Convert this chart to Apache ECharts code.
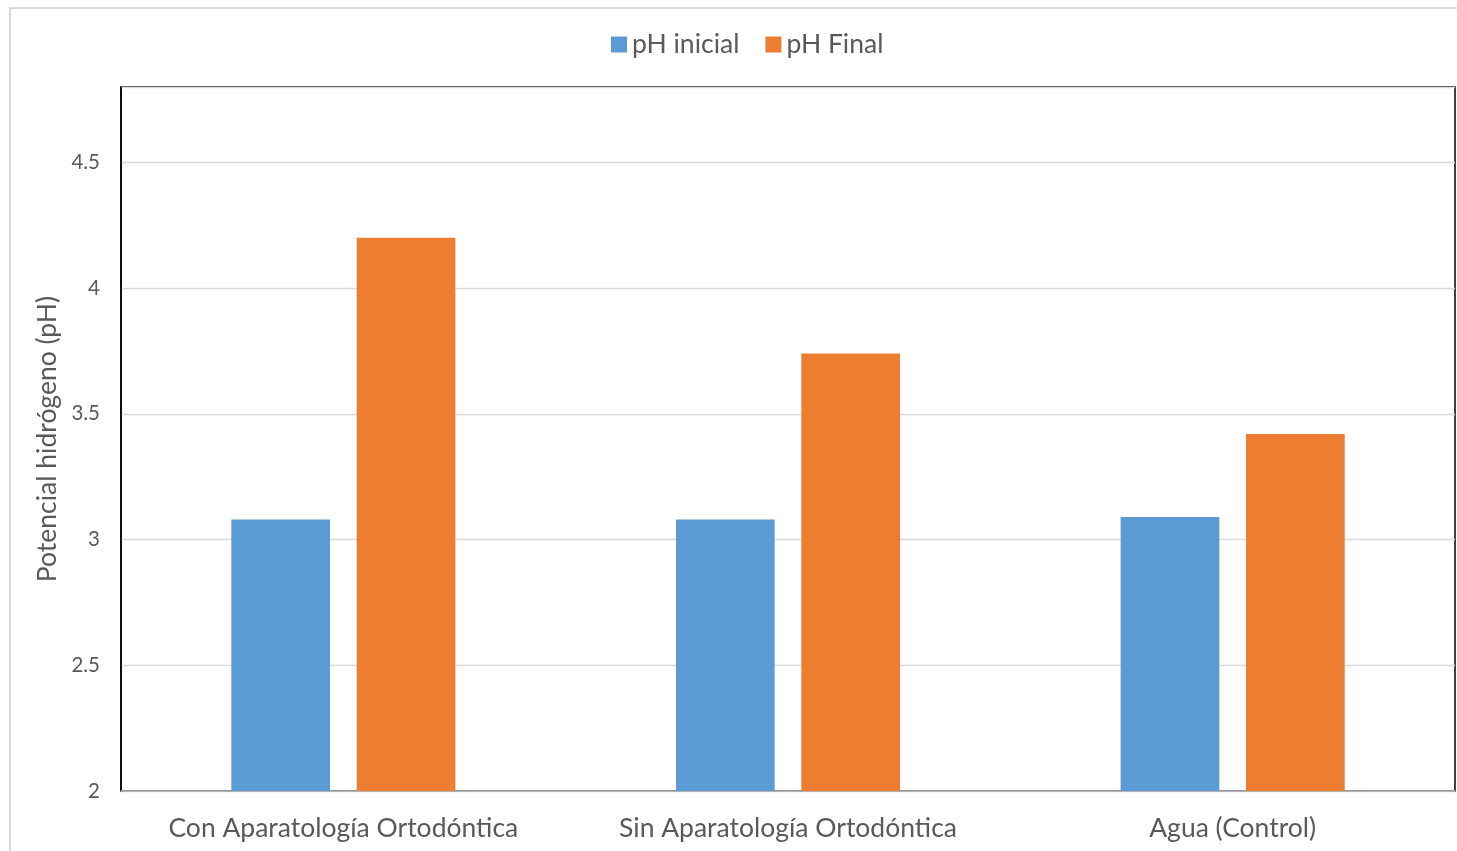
<!DOCTYPE html>
<html>
<head>
<meta charset="utf-8">
<script src="https://cdn.jsdelivr.net/npm/echarts@6/dist/echarts.min.js"></script>
<style>
html,body{margin:0;padding:0;background:#fff;}
#chart{width:1457px;height:851px;}
</style>
</head>
<body>
<div id="chart"></div>
<script>
// Groups and pH readings
var categories = ['Con Aparatología Ortodóntica', 'Sin Aparatología Ortodóntica', 'Agua (Control)'];
var phInicial = [3.08, 3.08, 3.09];
var phFinal = [4.20, 3.74, 3.42];
var seriesNames = ['pH inicial', 'pH Final'];

var FONT = 'Lato, "Open Sans", sans-serif';
var TEXT = '#595959';

var chart = echarts.init(document.getElementById('chart'), null, {renderer: 'canvas'});
chart.setOption({
  animation: false,
  backgroundColor: '#fff',
  graphic: [{
    type: 'rect',
    shape: {x: 10, y: 8, width: 1500, height: 900},
    style: {fill: 'none', stroke: '#d9d9d9', lineWidth: 2},
    silent: true,
    z: -1
  }],
  legend: {
    top: 26,
    left: 606,
    itemWidth: 16,
    itemHeight: 16,
    itemGap: 26,
    icon: 'rect',
    textStyle: {fontFamily: FONT, fontSize: 26.5, color: TEXT},
    data: seriesNames
  },
  grid: {
    left: 121, right: 2, top: 87, bottom: 60,
    show: true,
    borderColor: '#000',
    borderWidth: 1.5,
    containLabel: false
  },
  xAxis: {
    type: 'category',
    data: categories,
    axisLine: {lineStyle: {color: '#a6a6a6', width: 1.5}},
    axisTick: {show: false},
    axisLabel: {fontFamily: FONT, fontSize: 26.5, color: TEXT, margin: 24, interval: 0, hideOverlap: false}
  },
  yAxis: {
    type: 'value',
    min: 2,
    max: 4.8,
    interval: 0.5,
    name: 'Potencial hidrógeno (pH)',
    nameLocation: 'middle',
    nameGap: 58,
    nameTextStyle: {fontFamily: FONT, fontSize: 26.5, color: TEXT},
    axisLine: {show: true, lineStyle: {color: '#000', width: 1.5}},
    axisTick: {show: false},
    axisLabel: {fontFamily: FONT, fontSize: 20.5, color: TEXT, margin: 21, showMaxLabel: false},
    splitLine: {lineStyle: {color: '#d9d9d9', width: 1.3}}
  },
  series: [{
    name: seriesNames[0],
    type: 'bar',
    data: phInicial,
    barWidth: '22.2%',
    barGap: '27%',
    itemStyle: {color: '#5b9bd5'}
  }, {
    name: seriesNames[1],
    type: 'bar',
    data: phFinal,
    barWidth: '22.2%',
    itemStyle: {color: '#ed7d31'}
  }]
});
</script>
</body>
</html>
